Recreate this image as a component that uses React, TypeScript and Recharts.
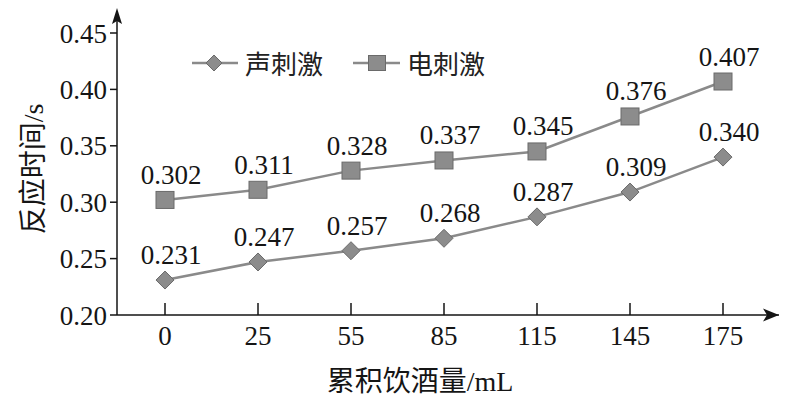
import React from 'react';
import { LineChart, Line, XAxis, YAxis, Legend, LabelList } from 'recharts';

const doses = ['0', '25', '55', '85', '115', '145', '175'];
const soundValues = [0.231, 0.247, 0.257, 0.268, 0.287, 0.309, 0.34];
const electricValues = [0.302, 0.311, 0.328, 0.337, 0.345, 0.376, 0.407];
const yTicks = [0.2, 0.25, 0.3, 0.35, 0.4, 0.45];
const seriesNames = ['声刺激', '电刺激'];
const xTitle = '累积饮酒量/mL';
const yTitle = '反应时间/s';

const data = doses.map((d, i) => ({ dose: d, sound: soundValues[i], electric: electricValues[i] }));

const LINE_COLOR = '#8a8a8a';
const MARK_FILL = '#8c8c8c';
const MARK_STROKE = '#6a6a6a';
const TEXT = '#151515';
const SERIF = "'Liberation Serif', 'DejaVu Serif', serif";
const MIXED = "'Liberation Serif', 'Noto Sans CJK SC', serif";
const CJK = "'Noto Sans CJK SC', sans-serif";

const Diamond = ({ cx, cy, r = 9 }: any) => (
  <path d={`M${cx},${cy - r} L${cx + r},${cy} L${cx},${cy + r} L${cx - r},${cy} Z`} fill={MARK_FILL} stroke={MARK_STROKE} strokeWidth={1} />
);
const Square = ({ cx, cy, w = 18, h = 17 }: any) => (
  <rect x={cx - w / 2} y={cy - h / 2} width={w} height={h} fill={MARK_FILL} stroke={MARK_STROKE} strokeWidth={1} />
);

const renderDiamondDot = (props: any) => {
  if (props.cx == null || props.cy == null) return <g key={props.index} />;
  return <Diamond key={`d-${props.index}`} cx={props.cx} cy={props.cy} />;
};
const renderSquareDot = (props: any) => {
  if (props.cx == null || props.cy == null) return <g key={props.index} />;
  return <Square key={`s-${props.index}`} cx={props.cx} cy={props.cy} />;
};

const renderValueLabel = (props: any) => {
  const x = props.x ?? props.viewBox?.x;
  const y = props.y ?? props.viewBox?.y;
  if (x == null || y == null) return null;
  return (
    <text x={Number(x) + 6} y={Number(y) - 16} textAnchor="middle" style={{ fontSize: 27, fontFamily: SERIF }} fill={TEXT}>
      {Number(props.value).toFixed(3)}
    </text>
  );
};

const renderYDecor = (props: any) => {
  const vb = props.viewBox || {};
  const ax = vb.x + vb.width;
  const top = vb.y;
  return (
    <g>
      <line x1={ax} y1={top} x2={ax} y2={top - 20} stroke={TEXT} strokeWidth={1.5} />
      <polygon points={`${ax},${top - 25} ${ax - 5},${top - 9} ${ax},${top - 12} ${ax + 5},${top - 9}`} fill={TEXT} />
      <text
        transform={`translate(33, ${top + 136}) rotate(-90)`}
        textAnchor="middle"
        dominantBaseline="central"
        style={{ fontSize: 28, fontFamily: MIXED }}
        fill={TEXT}
      >
        {yTitle}
      </text>
    </g>
  );
};

const renderXDecor = (props: any) => {
  const vb = props.viewBox || {};
  const right = vb.x + vb.width;
  const ay = vb.y;
  return (
    <g>
      <polygon points={`${right},${ay} ${right - 16},${ay - 6.5} ${right - 12},${ay} ${right - 16},${ay + 6.5}`} fill={TEXT} />
      <text x={420} y={ay + 66} textAnchor="middle" dominantBaseline="central" style={{ fontSize: 28, fontFamily: MIXED }} fill={TEXT}>
        {xTitle}
      </text>
    </g>
  );
};

const renderLegend = () => (
  <div style={{ display: 'flex', alignItems: 'center', fontFamily: CJK, fontSize: 26, color: '#222', lineHeight: '30px', whiteSpace: 'nowrap' }}>
    <svg width={46} height={22} style={{ display: 'block' }}>
      <line x1={0} y1={11} x2={46} y2={11} stroke={LINE_COLOR} strokeWidth={2.5} />
      <Diamond cx={22} cy={11} r={8} />
    </svg>
    <span style={{ marginLeft: 7 }}>{seriesNames[0]}</span>
    <svg width={47} height={22} style={{ display: 'block', marginLeft: 30 }}>
      <line x1={0} y1={11} x2={47} y2={11} stroke={LINE_COLOR} strokeWidth={2.5} />
      <Square cx={24} cy={11} w={17} h={15} />
    </svg>
    <span style={{ marginLeft: 7 }}>{seriesNames[1]}</span>
  </div>
);

const tickStyle = { fontSize: 27, fontFamily: SERIF, fill: TEXT, style: { fontFamily: SERIF, fontSize: 27 } };

export default function App() {
  return (
    <div style={{ position: 'absolute', left: 0, top: 0, width: 798, height: 403, background: '#fff', fontFamily: SERIF }}>
      <LineChart width={798} height={403} data={data} margin={{ top: 33, right: 19, bottom: 0, left: 0 }} style={{ fontFamily: SERIF }}>
        <XAxis
          dataKey="dose"
          height={88}
          padding={{ left: 48, right: 56 }}
          axisLine={{ stroke: TEXT, strokeWidth: 1.5 }}
          tickLine={{ stroke: TEXT, strokeWidth: 1.5 }}
          tickSize={-12}
          tickMargin={23}
          tick={tickStyle}
          interval={0}
          label={{ content: renderXDecor }}
        />
        <YAxis
          width={117}
          domain={[0.2, 0.45]}
          ticks={yTicks}
          allowDataOverflow
          axisLine={{ stroke: TEXT, strokeWidth: 1.5 }}
          tickLine={{ stroke: TEXT, strokeWidth: 1.5 }}
          tickSize={7}
          tickMargin={3}
          tickFormatter={(v: number) => v.toFixed(2)}
          tick={tickStyle}
          label={{ content: renderYDecor }}
        />
        <Legend
          layout="horizontal"
          verticalAlign="middle"
          align="center"
          content={renderLegend}
          wrapperStyle={{ position: 'absolute', left: 192, top: 48, width: 'auto', height: 30 }}
        />
        <Line
          name={seriesNames[0]}
          dataKey="sound"
          stroke={LINE_COLOR}
          strokeWidth={2.5}
          dot={renderDiamondDot}
          activeDot={false}
          isAnimationActive={false}
        >
          <LabelList dataKey="sound" content={renderValueLabel} />
        </Line>
        <Line
          name={seriesNames[1]}
          dataKey="electric"
          stroke={LINE_COLOR}
          strokeWidth={2.5}
          dot={renderSquareDot}
          activeDot={false}
          isAnimationActive={false}
        >
          <LabelList dataKey="electric" content={renderValueLabel} />
        </Line>
      </LineChart>
    </div>
  );
}
